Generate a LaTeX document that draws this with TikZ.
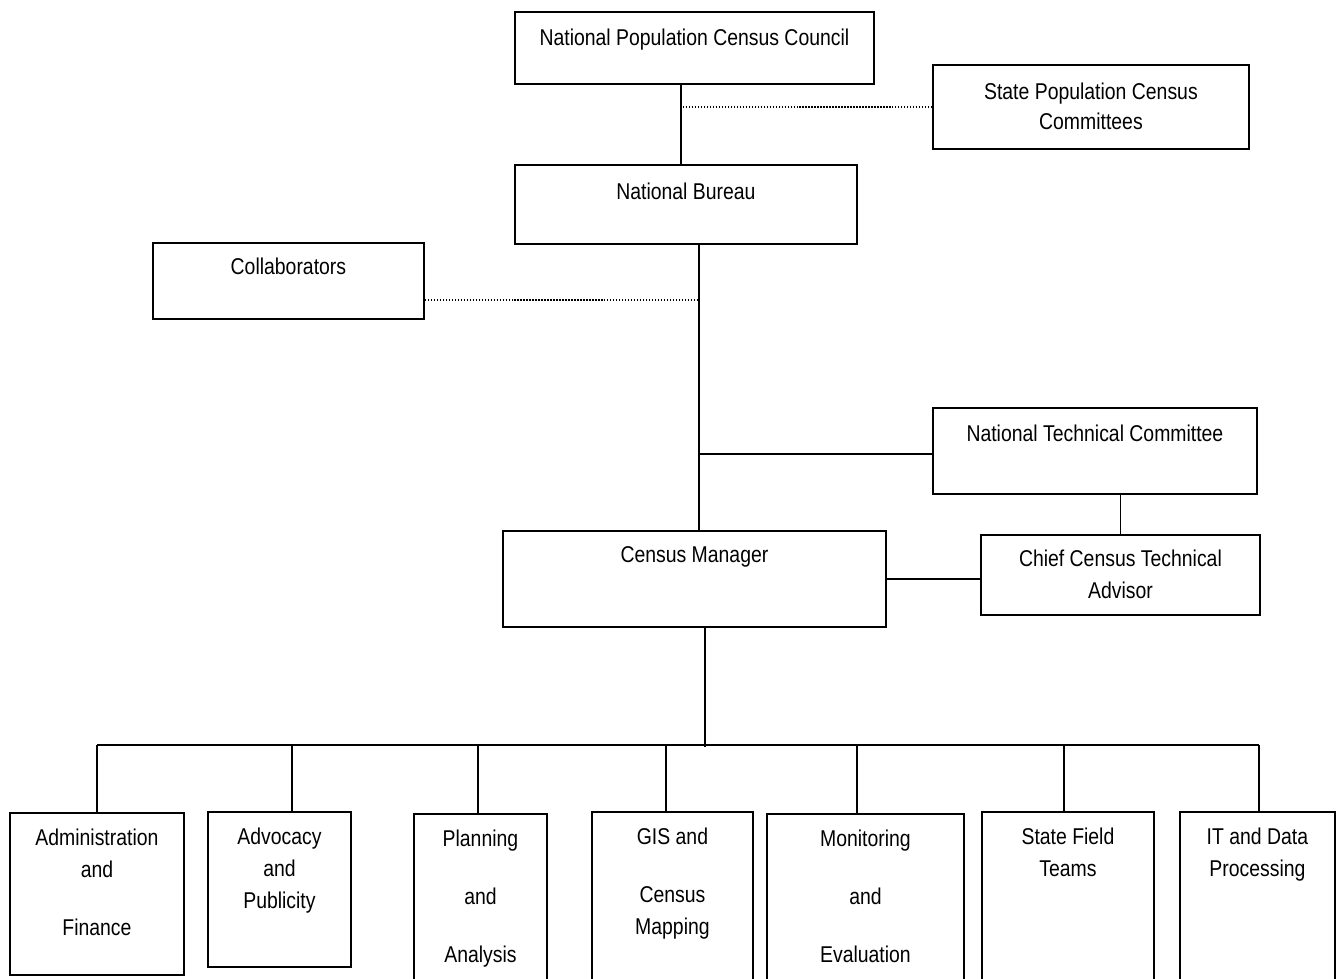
\documentclass[tikz,border=0pt]{standalone}
\usepackage{fontspec}
\setmainfont{Liberation Sans}[FakeStretch=0.85]
\usetikzlibrary{positioning}

\begin{document}
\begin{tikzpicture}[x=0.02cm,y=-0.02cm,
    unit/.style={draw,line width=1.1pt,rectangle,anchor=north west,inner sep=0pt},
    txt/.style={align=center,inner sep=0pt,font=\fontsize{13pt}{18pt}\selectfont},
    link/.style={line width=0.9pt},
    dotlink/.style={line width=0.9pt,dash pattern=on 0.8pt off 0.9pt}]
\useasboundingbox (0,0) rectangle (1336,979);
\clip (0,0) rectangle (1336,979);

% upper part
\node[unit,minimum width=7.18cm,minimum height=1.44cm] (council) at (514,11) {};
\node[txt,below=0.35cm of council.north] (council-t) {National Population Census Council};
\node[unit,minimum width=6.32cm,minimum height=1.68cm] (state) at (932,64) {};
\node[txt,below=0.37cm of state.north] (state-t) {State Population Census\\[-1pt]Committees};
\node[unit,minimum width=6.84cm,minimum height=1.58cm] (bureau) at (514,164) {};
\node[txt,below=0.37cm of bureau.north] (bureau-t) {National Bureau};
\node[unit,minimum width=5.42cm,minimum height=1.52cm] (collab) at (152,242) {};
\node[txt,below=0.32cm of collab.north] (collab-t) {Collaborators};
\node[unit,minimum width=6.48cm,minimum height=1.72cm] (ntc) at (932,407) {};
\node[txt,below=0.35cm of ntc.north] (ntc-t) {National Technical Committee};
\node[unit,minimum width=7.66cm,minimum height=1.92cm] (manager) at (502,530) {};
\node[txt,below=0.33cm of manager.north] (manager-t) {Census Manager};
\node[unit,minimum width=5.58cm,minimum height=1.6cm] (ccta) at (980,534) {};
\node[txt,below=0.32cm of ccta.north] (ccta-t) {Chief Census Technical\\Advisor};

% units
\node[unit,minimum width=3.48cm,minimum height=3.24cm] (admin) at (9,812) {};
\node[txt,below=0.33cm of admin.north] (admin-t) {Administration\\and\\[15pt]Finance};
\node[unit,minimum width=2.86cm,minimum height=3.1cm] (advocacy) at (207,811) {};
\node[txt,below=0.34cm of advocacy.north] (advocacy-t) {Advocacy\\and\\Publicity};
\node[unit,minimum width=2.66cm,minimum height=3.6cm] (planning) at (413,813) {};
\node[txt,below=0.33cm of planning.north] (planning-t) {Planning\\[15pt]and\\[15pt]Analysis};
\node[unit,minimum width=3.22cm,minimum height=3.6cm] (gis) at (591,811) {};
\node[txt,below=0.34cm of gis.north] (gis-t) {GIS and\\[15pt]Census\\Mapping};
\node[unit,minimum width=3.94cm,minimum height=3.6cm] (monitoring) at (766,813) {};
\node[txt,below=0.33cm of monitoring.north] (monitoring-t) {Monitoring\\[15pt]and\\[15pt]Evaluation};
\node[unit,minimum width=3.44cm,minimum height=3.6cm] (statefield) at (981,811) {};
\node[txt,below=0.34cm of statefield.north] (statefield-t) {State Field\\Teams};
\node[unit,minimum width=3.1cm,minimum height=3.6cm] (itdp) at (1179,811) {};
\node[txt,below=0.34cm of itdp.north] (itdp-t) {IT and Data\\Processing};

\coordinate (topspine) at (681,107);
\coordinate (midspine) at (699,300);
\coordinate (ntcjoin) at (699,454);
\coordinate (bus) at (705,745);
\coordinate (busleft) at (97,745);
\coordinate (busright) at (1259,745);

\draw[link] (council.south -| topspine) -- (bureau.north -| topspine);
\draw[dotlink] ([xshift=0.04cm]topspine) -- (state.west |- topspine);
\draw[link] (bureau.south -| midspine) -- (manager.north -| midspine);
\draw[dotlink] (collab.east |- midspine) -- (midspine);
\draw[link] (ntcjoin) -- (ntc.west |- ntcjoin);
\draw[link] (ntc.south -| ccta.north) -- (ccta.north);
\draw[link] (manager.east) -- (ccta.west |- manager.east);
\draw[link] (manager.south -| bus) -- ([yshift=-0.04cm]bus);
\draw[link] (busleft) -- (busright);
\foreach \n/\x in {admin/97,advocacy/292,planning/478,gis/666,monitoring/857,statefield/1064,itdp/1259}
  \draw[link] (\x,745) -- (\n.north -| \x,0);
\end{tikzpicture}
\end{document}
